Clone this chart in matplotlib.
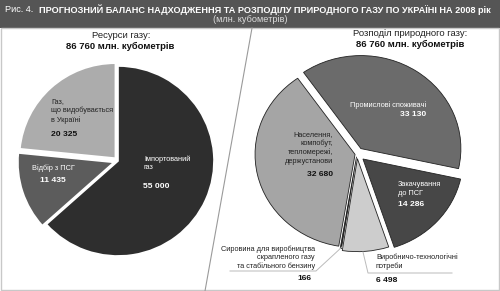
import matplotlib
matplotlib.use("Agg")
import matplotlib.pyplot as plt
from matplotlib.patches import Rectangle

plt.rcParams['font.family'] = ['Liberation Sans', 'DejaVu Sans']

# ---- data ----
left_labels = ["Імпортований\nгаз", "Відбір з ПСГ", "Газ,\nщо видобувається\nв Україні"]
left_values = [55000, 11435, 20325]
left_value_text = ["55 000", "11 435", "20 325"]

right_labels = ["Промислові споживачі", "Закачування\nдо ПСГ", "Виробничо-технологічні\nпотреби",
                "Сировина для виробництва\nскрапленого газу\nта стабільного бензину",
                "Населення,\nкомпобут,\nтепломережі,\nдержустанови"]
right_values = [33130, 14286, 6498, 166, 32680]
right_value_text = ["33 130", "14 286", "6 498", "166", "32 680"]

title_prefix = "Рис. 4."
title_main = "ПРОГНОЗНИЙ БАЛАНС НАДХОДЖЕННЯ ТА РОЗПОДІЛУ ПРИРОДНОГО ГАЗУ ПО УКРАЇНІ НА 2008 рік"
subtitle = "(млн. кубометрів)"
left_title = "Ресурси газу:"
right_title = "Розподіл природного газу:"
total_text = "86 760 млн. кубометрів"

W, H = 500, 291
fig = plt.figure(figsize=(W / 100, H / 100), dpi=100)
fig.patch.set_facecolor('white')

# background axes (pixel coords, y down)
bg = fig.add_axes([0, 0, 1, 1], zorder=0)
bg.set_xlim(0, W); bg.set_ylim(H, 0); bg.axis('off')
bg.add_patch(Rectangle((0, 0), W, 27.5, facecolor='#555555', edgecolor='none'))
bg.add_patch(Rectangle((1, 27.5), W - 2, H - 29, facecolor='white', edgecolor='#c8c8c8', lw=1))
bg.plot([252, 205], [28, 291], color='#9a9a9a', lw=0.8)


def pie_axes(cx, cy, rx, ry, L=1.35):
    ax = fig.add_axes([(cx - rx * L) / W, (H - cy - ry * L) / H, 2 * rx * L / W, 2 * ry * L / H], zorder=1)
    return ax, L


# left pie
axl, L = pie_axes(118, 161, 96, 95)
axl.pie(left_values, startangle=90, counterclock=False,
        colors=['#2e2e2e', '#5c5c5c', '#acacac'],
        explode=[0, 0.045, 0.04],
        wedgeprops=dict(edgecolor='white', linewidth=1.2))
axl.set_aspect('auto'); axl.set_xlim(-L, L); axl.set_ylim(-L, L); axl.axis('off')

# right pie
axr, L = pie_axes(357, 154, 100, 93)
axr.pie(right_values, startangle=125, counterclock=False,
        colors=['#6b6b6b', '#474747', '#cdcdcd', '#111111', '#a5a5a5'],
        explode=[0.07, 0.08, 0.05, 0.03, 0.02],
        wedgeprops=dict(edgecolor='#222222', linewidth=0.6))
axr.set_aspect('auto'); axr.set_xlim(-L, L); axr.set_ylim(-L, L); axr.axis('off')

# text overlay
tx = fig.add_axes([0, 0, 1, 1], zorder=2)
tx.set_xlim(0, W); tx.set_ylim(H, 0); tx.axis('off')

tx.text(5, 10, title_prefix, color='white', fontsize=6.6, va='center', ha='left')
tx.text(39, 10, title_main, color='white', fontsize=6.6, fontweight='bold', va='center', ha='left')
tx.text(250, 20, subtitle, color='#dddddd', fontsize=6.6, va='center', ha='center')

tx.text(121, 35, left_title, color='#222222', fontsize=6.8, va='center', ha='center')
tx.text(120, 46, total_text, color='#111111', fontsize=6.8, fontweight='bold', va='center', ha='center')
tx.text(410, 33, right_title, color='#222222', fontsize=6.8, va='center', ha='center')
tx.text(410, 44, total_text, color='#111111', fontsize=6.8, fontweight='bold', va='center', ha='center')

lab = dict(fontsize=5.3, linespacing=1.25)
num = dict(fontsize=6.1, fontweight='bold')

# left pie labels
tx.text(51, 111, left_labels[2], color='#222222', ha='left', va='center', **lab)
tx.text(51, 134, left_value_text[2], color='#111111', ha='left', va='center', **num)
tx.text(53, 168, left_labels[1], color='white', ha='center', va='center', **lab)
tx.text(53, 181, left_value_text[1], color='white', ha='center', va='center', **num)
tx.text(144, 163, left_labels[0], color='white', ha='left', va='center', **lab)
tx.text(143, 187, left_value_text[0], color='white', ha='left', va='center', **num)

# right pie labels
tx.text(426, 105, right_labels[0], color='white', ha='right', va='center', **lab)
tx.text(426, 115, right_value_text[0], color='white', ha='right', va='center', **num)
tx.text(333, 148, right_labels[4], color='#222222', ha='right', va='center', **lab)
tx.text(333, 175, right_value_text[4], color='#111111', ha='right', va='center', **num)
tx.text(398, 189, right_labels[1], color='white', ha='left', va='center', **lab)
tx.text(398, 205, right_value_text[1], color='white', ha='left', va='center', **num)
tx.text(315, 258, right_labels[3], color='#222222', ha='right', va='center', **lab)
tx.text(311, 278, right_value_text[3], color='#111111', ha='right', va='center', **num)
tx.text(376, 262, right_labels[2], color='#222222', ha='left', va='center', **lab)
tx.text(376, 281, right_value_text[2], color='#111111', ha='left', va='center', **num)

# leader lines
tx.plot([342, 316, 230], [247, 271, 271], color='#bbbbbb', lw=0.7)
tx.plot([363, 368, 452], [252, 273, 273], color='#bbbbbb', lw=0.7)

fig.savefig('out.png', dpi=100, facecolor='white')
